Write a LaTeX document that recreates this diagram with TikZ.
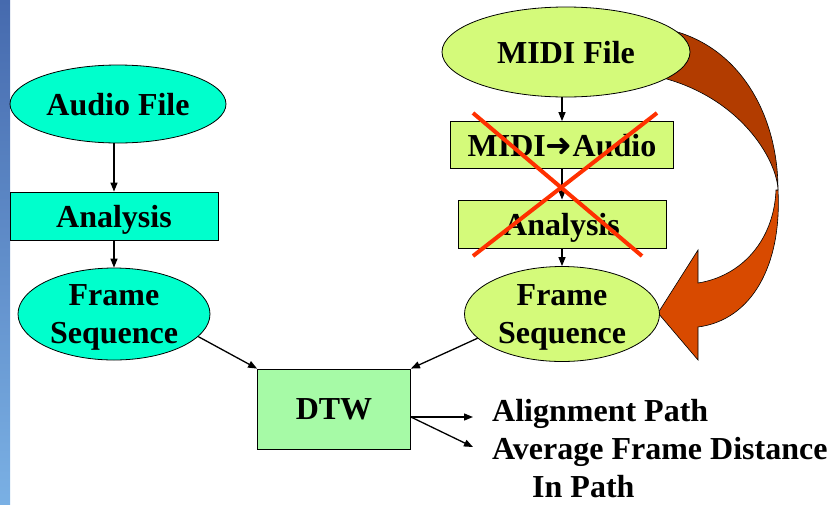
\documentclass[tikz,border=0pt]{standalone}
\usepackage{fontspec}
\setmainfont{Liberation Serif}
\newfontfamily\arrowfont{DejaVu Sans}
\usepackage{tikz}
\usetikzlibrary{shapes.geometric,arrows.meta}
\definecolor{audiocyan}{RGB}{0,255,204}
\definecolor{midigreen}{RGB}{212,250,122}
\definecolor{dtwgreen}{RGB}{166,250,166}
\definecolor{rust}{RGB}{178,60,0}
\definecolor{flame}{RGB}{216,74,0}
\definecolor{crossred}{RGB}{255,48,0}
\definecolor{stripdark}{RGB}{70,106,174}
\definecolor{striplight}{RGB}{122,176,228}

\begin{document}
\begin{tikzpicture}[x=1pt,y=-1pt,font=\fontsize{32}{38}\selectfont\bfseries,
  ell/.style={ellipse,draw,line width=0.8pt,inner sep=0pt,align=center,text depth=0pt},
  blk/.style={rectangle,draw,line width=0.8pt,inner sep=0pt,text depth=0pt},
  arr/.style={line width=1.3pt,-{Triangle[length=9pt,width=7pt]}}]
\useasboundingbox (0,0) rectangle (832,504);
\shade[top color=stripdark,bottom color=striplight] (0,0) rectangle (10,504);
\filldraw[fill=rust,draw=black,line width=0.6pt] (660,28) .. controls (735,40) and (778,110) .. (778,190) .. controls (777,160) and (740,95) .. (655,76) -- cycle;
\filldraw[fill=flame,draw=black,line width=0.6pt] (778,190) .. controls (782,265) and (752,320) .. (698,327) -- (698,360) -- (658,313) -- (698,250) -- (698,283) .. controls (742,276) and (774,240) .. (776,190) -- cycle;
\node[ell,fill=audiocyan,minimum width=216pt,minimum height=78pt] (af) at (118,104) {Audio File};
\node[blk,fill=audiocyan,minimum width=208pt,minimum height=48pt] (anl) at (114,216) {Analysis};
\node[ell,fill=audiocyan,minimum width=192pt,minimum height=92pt] (fsl) at (114,314) {Frame\\Sequence};
\node[ell,fill=midigreen,minimum width=248pt,minimum height=90pt] (mf) at (566,52) {MIDI File};
\node[blk,fill=midigreen,minimum width=223pt,minimum height=47pt] (m2a) at (562,145) {MIDI{\arrowfont ➜}Audio};
\node[blk,fill=midigreen,minimum width=208pt,minimum height=48pt] (anr) at (562,224) {Analysis};
\node[ell,fill=midigreen,minimum width=195pt,minimum height=95pt] (fsr) at (562,314) {Frame\\Sequence};
\node[blk,fill=dtwgreen,minimum width=153pt,minimum height=80pt] (dtw) at (334,409) {DTW};
\node[anchor=base west,inner sep=0pt] (alp) at (492,421) {Alignment Path};
\node[anchor=base west,inner sep=0pt] (afd) at (492,459) {Average Frame Distance};
\node[anchor=base west,inner sep=0pt] (inp) at (532,497) {In Path};
\coordinate (tipa) at (473,417);
\coordinate (tipb) at (473,447);
\draw[arr] (af.south -| anl.north) -- (anl.north);
\draw[arr] (anl) -- (fsl);
\draw[arr] (mf.south -| m2a.north) -- (m2a.north);
\draw[arr] (m2a) -- (anr);
\draw[arr] (anr) -- (fsr);
\draw[arr] (fsl.-15) -- (dtw.north west);
\draw[arr] (fsr.196) -- (dtw.north east);
\draw[arr] (dtw.east |- tipa) -- (tipa);
\draw[arr] (dtw.east |- tipa) -- (tipb);
\coordinate (xa) at (473,113);
\coordinate (xb) at (642,256);
\coordinate (xc) at (657,113);
\coordinate (xd) at (473,256);
\draw[crossred,line width=4pt] (xa) -- (xb) (xc) -- (xd);
\end{tikzpicture}
\end{document}
